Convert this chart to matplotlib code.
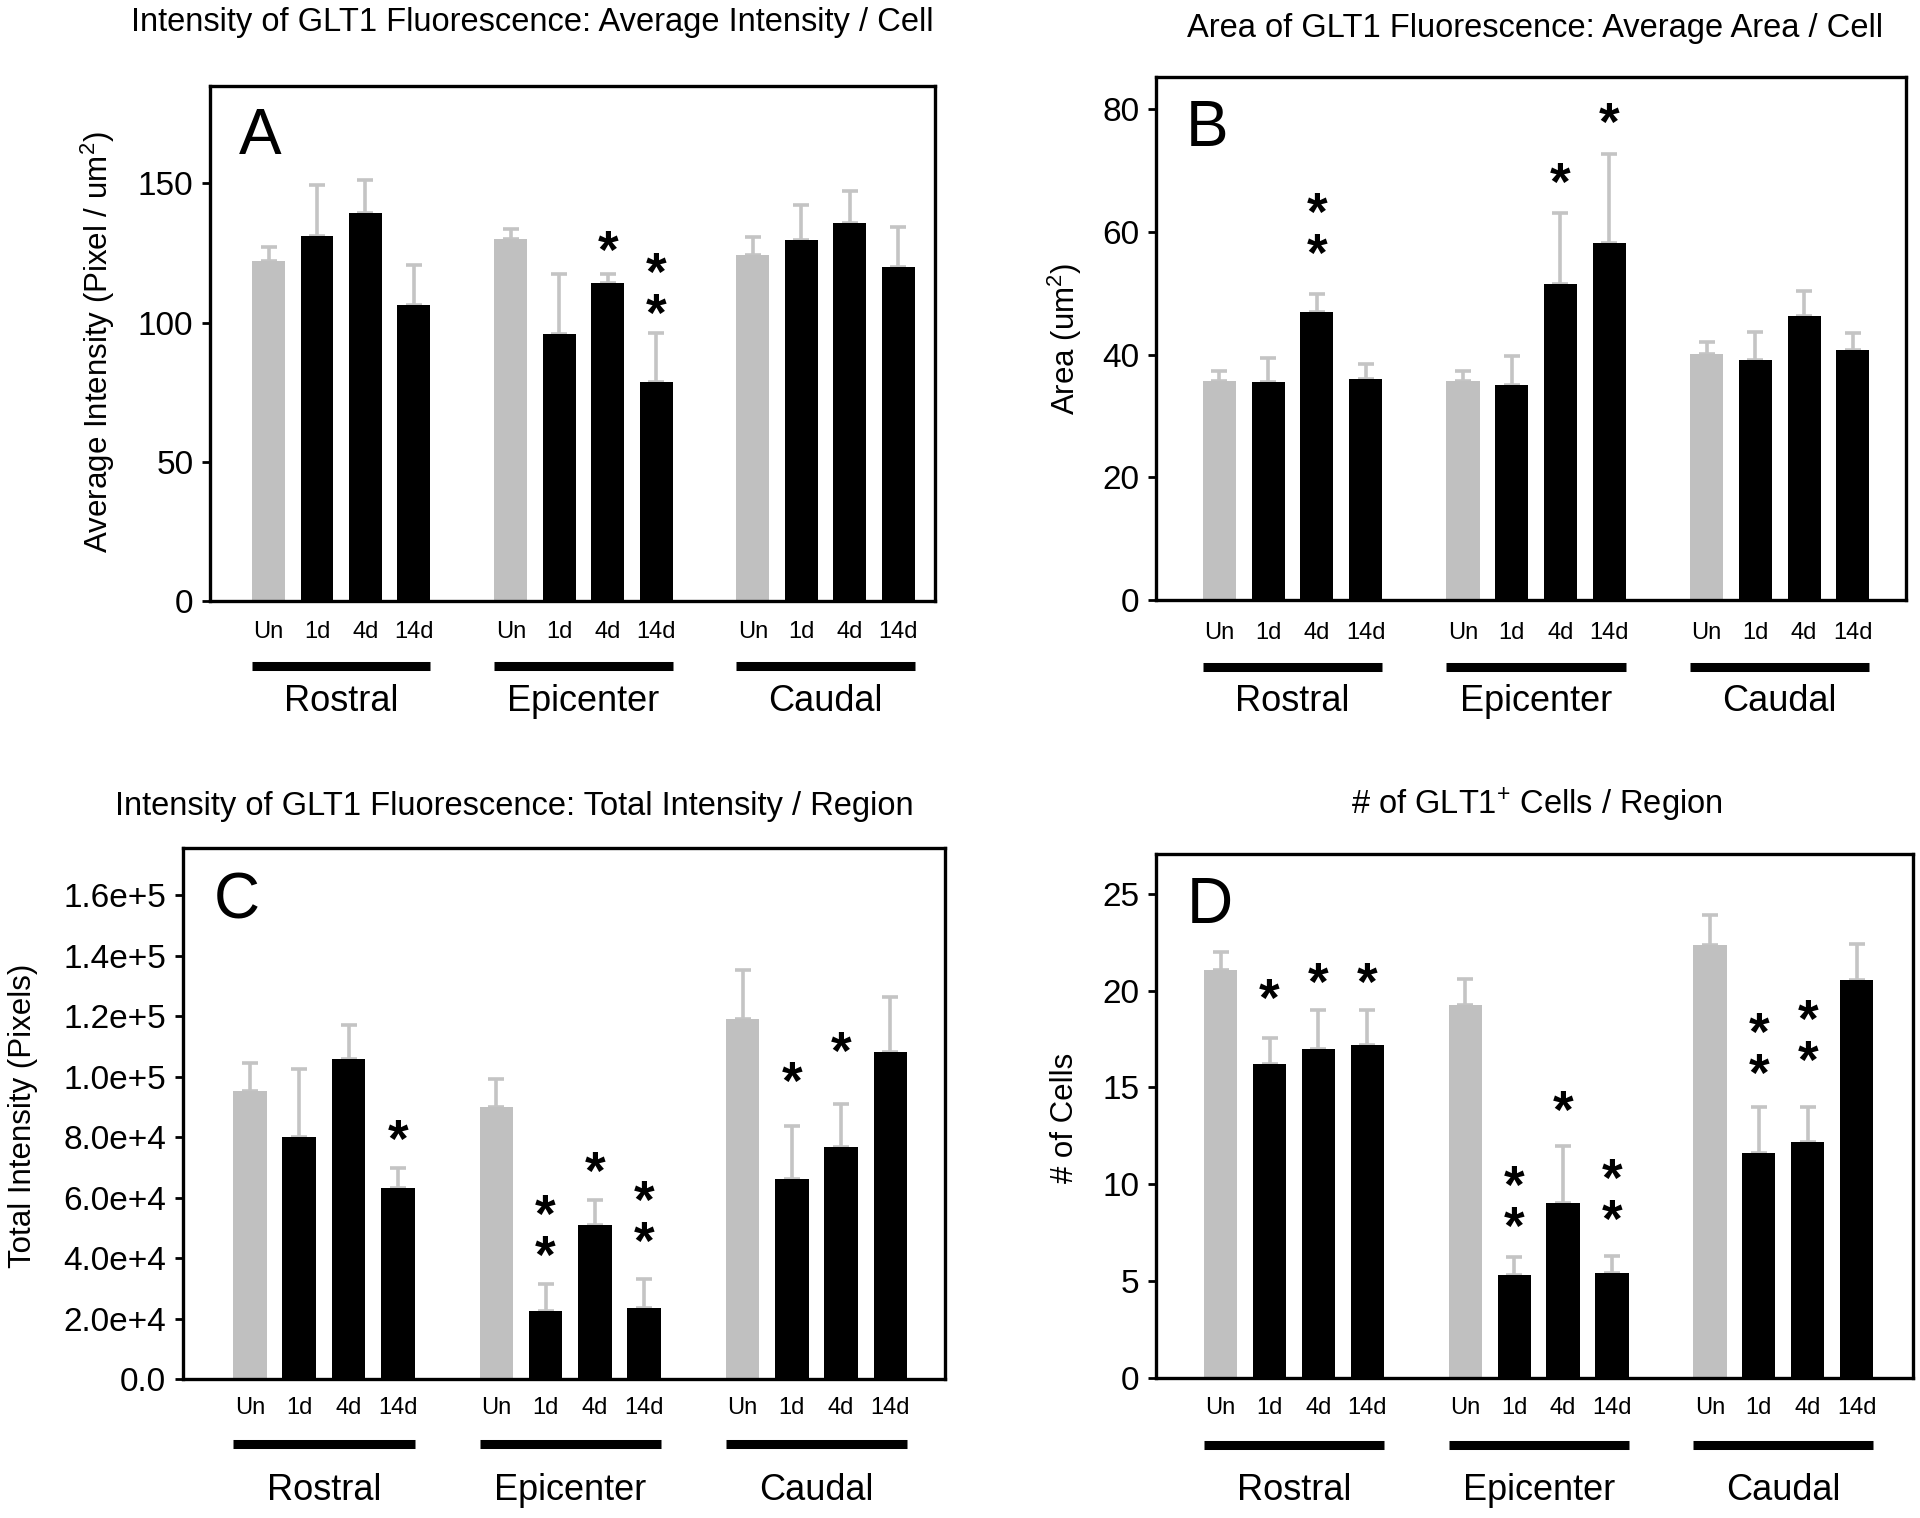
import matplotlib
matplotlib.use("Agg")
import matplotlib.pyplot as plt
import matplotlib.transforms as mtransforms

plt.rcParams["font.family"] = ["Liberation Sans", "DejaVu Sans"]
plt.rcParams["mathtext.fontset"] = "custom"
plt.rcParams["mathtext.rm"] = "Liberation Sans"
plt.rcParams["mathtext.it"] = "Liberation Sans"

groups = ["Rostral", "Epicenter", "Caudal"]
times = ["Un", "1d", "4d", "14d"]

# panel A: average intensity / cell
a_mean = [122.3, 131.0, 139.2, 106.5, 130.0, 95.9, 114.1, 78.8, 124.2, 129.8, 135.9, 120.1]
a_sem = [4.9, 18.6, 12.0, 14.1, 3.6, 21.6, 3.2, 17.6, 6.7, 12.5, 11.3, 14.2]
# (bar index, height of the top star, number of stars)
a_stars = [(6, 130.5, 1), (7, 122.7, 2)]

# panel B: average area / cell
b_mean = [35.7, 35.5, 47.0, 36.0, 35.7, 35.0, 51.6, 58.3, 40.2, 39.2, 46.4, 40.8]
b_sem = [1.7, 4.0, 2.9, 2.5, 1.6, 4.8, 11.6, 14.4, 1.8, 4.5, 4.0, 2.7]
b_stars = [(2, 65.4, 2), (6, 70.3, 1), (7, 80.0, 1)]

# panel C: total intensity / region
c_mean = [95200, 79900, 105800, 63200, 90100, 22500, 51000, 23600, 119000, 66200, 76700, 108000]
c_sem = [9400, 22700, 11300, 6700, 9100, 8900, 8200, 9600, 16300, 17500, 14100, 18300]
c_stars = [(3, 83400, 1), (5, 58700, 2), (6, 73100, 1), (7, 63500, 2),
           (9, 102600, 1), (10, 112500, 1)]

# panel D: number of cells / region
d_mean = [21.07, 16.2, 17.0, 17.2, 19.25, 5.34, 9.03, 5.41, 22.37, 11.6, 12.2, 20.57]
d_sem = [0.93, 1.35, 2.0, 1.8, 1.35, 0.89, 2.97, 0.9, 1.52, 2.4, 1.8, 1.83]
d_stars = [(1, 20.25, 1), (2, 21.1, 1), (3, 21.1, 1), (5, 10.6, 2), (6, 14.5, 1),
           (7, 10.97, 2), (9, 18.5, 2), (10, 19.2, 2)]

GREY = "#c0c0c0"
ERR = "#c4c4c4"
W, H = 1920, 1518
STAR = 38

fig = plt.figure(figsize=(19.2, 15.18), dpi=100)


def fmt_c(v):
    if v == 0:
        return "0.0"
    e = 0
    m = v
    while m >= 10:
        m /= 10
        e += 1
    return f"{m:.1f}e+{e}"


def panel(box, mean, sem, stars, yticks, ytop, xlim, letter, ticklabels,
          off_tick, off_line, off_group):
    l, t, r, b = box
    ax = fig.add_axes([l / W, 1 - b / H, (r - l) / W, (b - t) / H])
    pos = [5 * (k // 4) + k % 4 for k in range(12)]
    colors = [GREY if k % 4 == 0 else "black" for k in range(12)]
    ax.errorbar(pos, mean, yerr=[[0] * 12, sem], fmt="none", ecolor=ERR,
                elinewidth=2.6, capsize=6, capthick=2.6, zorder=1)
    ax.bar(pos, mean, width=0.68, color=colors, zorder=2)
    ax.set_xlim(*xlim)
    ax.set_ylim(0, ytop)
    ax.set_yticks(yticks)
    ax.set_yticklabels(ticklabels, fontsize=24)
    ax.set_xticks([])
    ax.tick_params(axis="y", length=6, width=2, direction="out", pad=6)
    for s in ax.spines.values():
        s.set_linewidth(2.4)

    # tick labels, group underline, group names
    tlab = mtransforms.offset_copy(ax.get_xaxis_transform(), fig=fig, y=-off_tick, units="dots")
    tline = mtransforms.offset_copy(ax.get_xaxis_transform(), fig=fig, y=-off_line, units="dots")
    tgrp = mtransforms.offset_copy(ax.get_xaxis_transform(), fig=fig, y=-off_group, units="dots")
    for k in range(12):
        ax.text(pos[k], 0, times[k % 4], transform=tlab, ha="center", va="center",
                fontsize=17, clip_on=False)
    for g, name in enumerate(groups):
        ax.plot([5 * g - 0.34, 5 * g + 3.34], [0, 0], transform=tline, color="black",
                lw=6.5, solid_capstyle="butt", clip_on=False)
        ax.text(5 * g + 1.5, 0, name, transform=tgrp, ha="center", va="center",
                fontsize=26, clip_on=False)

    # significance stars (stacked stars drawn as one multi-line text)
    tr = mtransforms.offset_copy(ax.transData, fig=fig, y=0.16 * STAR, units="points")
    for k, y, n in stars:
        ax.text(pos[k], y, "\n".join(["*"] * n), transform=tr, ha="center", va="top",
                fontsize=STAR, fontweight="bold", linespacing=0.77)

    ax.text(0.04, 0.868, letter, transform=ax.transAxes, fontsize=46, va="baseline", ha="left")
    return ax


panel((210, 86, 935, 601), a_mean, a_sem, a_stars, [0, 50, 100, 150], 185,
      (-1.21, 13.76), "A", ["0", "50", "100", "150"], 31, 65, 100)
panel((1156, 77, 1906, 600), b_mean, b_sem, b_stars, [0, 20, 40, 60, 80], 85.3,
      (-1.30, 14.09), "B", ["0", "20", "40", "60", "80"], 33, 67, 102)
cticks = list(range(0, 160001, 20000))
panel((183, 848, 945, 1379), c_mean, c_sem, c_stars, cticks, 175600,
      (-1.36, 14.11), "C", [fmt_c(v) for v in cticks], 29, 65, 111)
panel((1156, 854, 1913, 1378), d_mean, d_sem, d_stars, [0, 5, 10, 15, 20, 25], 27.05,
      (-1.32, 14.15), "D", ["0", "5", "10", "15", "20", "25"], 30, 67, 113)

titles = [
    ("Intensity of GLT1 Fluorescence: Average Intensity / Cell", 532, 22),
    ("Area of GLT1 Fluorescence: Average Area / Cell", 1535, 29),
    ("Intensity of GLT1 Fluorescence: Total Intensity / Region", 514, 806),
    (r"# of GLT1$^{+}$ Cells / Region", 1537, 805),
]
for txt, x, y in titles:
    fig.text(x / W, 1 - y / H, txt, ha="center", va="center", fontsize=23.5)

ylabels = [
    (r"Average Intensity (Pixel / um$^{2}$)", 98, 342),
    (r"Area (um$^{2}$)", 1065, 339),
    ("Total Intensity (Pixels)", 23, 1116),
    ("# of Cells", 1065, 1118),
]
for txt, x, y in ylabels:
    fig.text(x / W, 1 - y / H, txt, ha="center", va="center", rotation=90, fontsize=22.5)

fig.savefig("out.png", dpi=100, facecolor="white")
